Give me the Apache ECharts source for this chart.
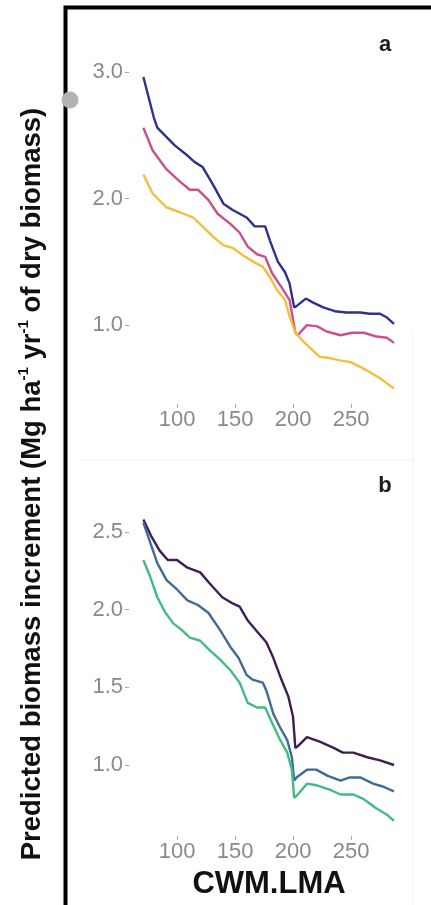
<!DOCTYPE html>
<html>
<head>
<meta charset="utf-8">
<script src="https://cdn.jsdelivr.net/npm/echarts@6/dist/echarts.min.js"></script>
<style>
html,body{margin:0;padding:0;background:#fff;}
#c{width:431px;height:905px;}
</style>
</head>
<body>
<div id="c"></div>
<script>
// Panel a
var aNavyX = [71, 80, 83, 98, 109, 115, 122, 131, 140, 148, 160, 167, 176, 180, 187, 193, 197, 201, 203, 211, 217, 226, 236, 246, 258, 266, 275, 281, 287];
var aNavyY = [2.96, 2.64, 2.56, 2.42, 2.34, 2.29, 2.25, 2.11, 1.96, 1.91, 1.85, 1.78, 1.78, 1.67, 1.50, 1.42, 1.33, 1.14, 1.15, 1.21, 1.18, 1.14, 1.11, 1.10, 1.10, 1.09, 1.09, 1.06, 1.01];
var aPinkX = [71, 79, 91, 103, 111, 118, 127, 135, 146, 154, 161, 169, 176, 182, 190, 197, 202, 204, 212, 221, 229, 241, 251, 261, 272, 281, 287];
var aPinkY = [2.56, 2.38, 2.23, 2.13, 2.07, 2.07, 1.99, 1.88, 1.80, 1.73, 1.62, 1.56, 1.54, 1.41, 1.30, 1.20, 0.94, 0.92, 1.00, 0.99, 0.95, 0.92, 0.94, 0.94, 0.91, 0.90, 0.86];
var aYellowX = [71, 79, 91, 103, 114, 122, 131, 140, 148, 157, 166, 174, 180, 186, 193, 197, 202, 209, 217, 223, 232, 241, 249, 258, 266, 275, 281, 287];
var aYellowY = [2.19, 2.04, 1.93, 1.89, 1.85, 1.78, 1.70, 1.63, 1.61, 1.55, 1.50, 1.46, 1.38, 1.28, 1.20, 1.07, 0.94, 0.87, 0.80, 0.75, 0.74, 0.72, 0.71, 0.67, 0.63, 0.58, 0.54, 0.50];
// Panel b
var bPurpleX = [71, 78, 85, 92, 100, 109, 120, 128, 139, 148, 154, 161, 169, 177, 183, 190, 196, 200, 202, 204, 212, 223, 235, 243, 252, 264, 275, 287];
var bPurpleY = [2.58, 2.47, 2.38, 2.32, 2.32, 2.27, 2.24, 2.17, 2.08, 2.04, 2.02, 1.93, 1.86, 1.79, 1.69, 1.55, 1.44, 1.31, 1.11, 1.12, 1.18, 1.15, 1.11, 1.08, 1.08, 1.05, 1.03, 1.00];
var bBlueX = [71, 77, 83, 91, 100, 109, 118, 127, 137, 146, 153, 160, 165, 174, 177, 183, 189, 195, 199, 201, 203, 212, 220, 230, 241, 249, 258, 269, 278, 287];
var bBlueY = [2.56, 2.43, 2.30, 2.19, 2.13, 2.06, 2.03, 1.98, 1.87, 1.76, 1.69, 1.58, 1.55, 1.53, 1.48, 1.33, 1.24, 1.16, 1.05, 0.90, 0.92, 0.97, 0.97, 0.93, 0.90, 0.92, 0.92, 0.88, 0.86, 0.83];
var bGreenX = [71, 77, 83, 90, 97, 104, 111, 120, 128, 137, 146, 154, 161, 169, 176, 182, 189, 195, 199, 201, 203, 212, 220, 232, 241, 252, 261, 272, 281, 287];
var bGreenY = [2.32, 2.21, 2.08, 1.98, 1.91, 1.87, 1.82, 1.80, 1.74, 1.68, 1.61, 1.53, 1.40, 1.37, 1.37, 1.27, 1.16, 1.08, 0.97, 0.79, 0.80, 0.88, 0.87, 0.84, 0.81, 0.81, 0.78, 0.72, 0.68, 0.64];

var xTicks = [100, 150, 200, 250];
var yTicksA = [1.0, 2.0, 3.0];
var yTicksB = [1.0, 1.5, 2.0, 2.5];
var panelLabels = ['a', 'b'];
var xTitle = 'CWM.LMA';

function pairs(xs, ys){ return xs.map(function(x,i){ return [x, ys[i]]; }); }

var FONT = '"Liberation Sans", Arial, sans-serif';
var tickColor = '#8a8a8a';

function xAxisDef(gi){
  return {
    type:'value', gridIndex: gi, min: 58.6, max: 297.4,
    axisLine:{show:false},
    splitLine:{show:false},
    axisTick:{show:true, length:4, lineStyle:{color:'#a8a8a8', width:1}, customValues: xTicks},
    axisLabel:{color:tickColor, fontSize:22, fontFamily:FONT, margin:5, customValues: xTicks,
      formatter:function(v){return String(v);}}
  };
}
function yAxisDef(gi, mn, mx, ticks){
  return {
    type:'value', gridIndex: gi, min: mn, max: mx,
    axisLine:{show:false},
    splitLine:{show:false},
    axisTick:{show:true, length:4, lineStyle:{color:'#a8a8a8', width:1}, customValues: ticks},
    axisLabel:{color:tickColor, fontSize:22, fontFamily:FONT, margin:6, customValues: ticks,
      formatter:function(v){return v.toFixed(1);}}
  };
}
function line(name, xi, data, color){
  return {
    name:name, type:'line', xAxisIndex:xi, yAxisIndex:xi, data:data,
    showSymbol:false, symbol:'none', smooth:false, animation:false,
    lineStyle:{color:color, width:2.4}
  };
}

var chart = echarts.init(document.getElementById('c'), null, {renderer:'canvas'});
chart.setOption({
  backgroundColor:'#ffffff',
  animation:false,
  grid:[
    {left:129, width:277, top:61.5, height:342.5},
    {left:129, width:277, top:504.5, height:331.5}
  ],
  xAxis:[xAxisDef(0), xAxisDef(1)],
  yAxis:[yAxisDef(0, 0.377, 3.083, yTicksA), yAxisDef(1, 0.543, 2.677, yTicksB)],
  series:[
    line('a1', 0, pairs(aNavyX, aNavyY), '#2f3190'),
    line('a2', 0, pairs(aPinkX, aPinkY), '#cc4f8c'),
    line('a3', 0, pairs(aYellowX, aYellowY), '#f2bf3f'),
    line('b1', 1, pairs(bPurpleX, bPurpleY), '#3f1f52'),
    line('b2', 1, pairs(bBlueX, bBlueY), '#3f6b94'),
    line('b3', 1, pairs(bGreenX, bGreenY), '#42bc85')
  ],
  graphic:[
    {type:'line', shape:{x1:80, y1:460, x2:415, y2:460}, style:{stroke:'#f3f3f3', lineWidth:1}, z:1},
    {type:'line', shape:{x1:413, y1:330, x2:413, y2:905}, style:{stroke:'#f5f5f5', lineWidth:1}, z:1},
    {type:'rect', shape:{x:65.5, y:7.5, width:600, height:1200}, style:{fill:null, stroke:'#000', lineWidth:4}, z:10},
    {type:'circle', shape:{cx:70, cy:100, r:8.5}, style:{fill:'#b3b3b3'}, z:11},
    {type:'text', x:385, y:45, z:10, style:{text:panelLabels[0], font:'bold 22px ' + FONT, fill:'#1e1e1e', align:'center', verticalAlign:'middle'}},
    {type:'text', x:385, y:486, z:10, style:{text:panelLabels[1], font:'bold 22px ' + FONT, fill:'#1e1e1e', align:'center', verticalAlign:'middle'}},
    {type:'text', x:269, y:884, z:10, style:{text:xTitle, font:'bold 31px ' + FONT, fill:'#111', align:'center', verticalAlign:'middle'}},
    {type:'text', x:31, y:484, rotation:Math.PI/2, z:10, style:{
      text:'{t|Predicted biomass increment (Mg ha}{s|-1}{t| yr}{s|-1}{t| of dry biomass)}',
      align:'center', verticalAlign:'middle',
      rich:{
        t:{fontFamily:FONT, fontWeight:'bold', fontSize:27.5, fill:'#111', color:'#111', lineHeight:30, verticalAlign:'bottom'},
        s:{fontFamily:FONT, fontWeight:'bold', fontSize:15, fill:'#111', color:'#111', lineHeight:30, verticalAlign:'top'}
      }
    }}
  ]
});
</script>
</body>
</html>
